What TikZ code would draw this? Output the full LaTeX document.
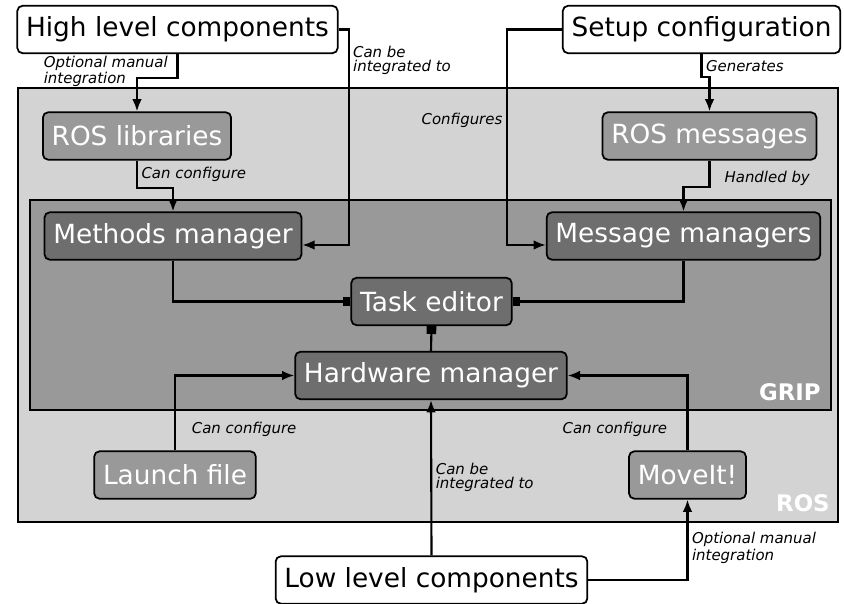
\documentclass[tikz,border=0pt]{standalone}
\usepackage{fontspec}
\setmainfont{DejaVu Sans}
\usetikzlibrary{arrows.meta,calc}
\definecolor{rosbg}{HTML}{D3D3D3}
\definecolor{gripbg}{HTML}{999999}
\definecolor{boxmid}{HTML}{999999}
\definecolor{boxdark}{HTML}{6E6E6E}
\tikzset{
  box/.style={draw=black, line width=1pt, rounded corners=3pt, font=\fontsize{15}{18}\selectfont, minimum height=27pt, inner xsep=5pt, inner ysep=2pt},
  extbox/.style={box, fill=white, text=black},
  rosnode/.style={box, fill=boxmid, text=white},
  gripnode/.style={box, fill=boxdark, text=white},
  lbl/.style={font=\fontsize{8.5}{8}\selectfont\itshape, align=left, inner sep=2pt},
  tag/.style={font=\fontsize{13}{15}\selectfont\bfseries, text=white, inner sep=0pt},
  arr/.style={line width=1.2pt, -{Latex[length=7pt,width=5.5pt]}},
  sq/.style={line width=1.2pt, -{Square[length=4.5pt,width=5.5pt]}}
}

\begin{document}
\begin{tikzpicture}[x=0.02cm, y=-0.02cm]
\clip (0,0) rectangle (844,604);

% containers
\draw[line width=1pt, fill=rosbg] (18,88) rectangle (838,522);
\draw[line width=1pt, fill=gripbg] (30,200) rectangle (831,410);
\node[tag, anchor=south east] (roslbl) at (830,512) {ROS};
\node[tag, anchor=south east] (griplbl) at (821,401) {GRIP};

% outside
\node[extbox] (high) at (177.5,29.5) {High level components};
\node[extbox] (setup) at (701.5,29.5) {Setup configuration};
\node[extbox] (low) at (431.5,580) {Low level components};

% ROS
\node[rosnode] (roslib) at (137,136) {ROS libraries};
\node[rosnode] (rosmsg) at (709.5,136) {ROS messages};
\node[rosnode] (launch) at (175,475) {Launch file};
\node[rosnode] (moveit) at (687.5,475) {MoveIt!};

% GRIP
\node[gripnode] (methods) at (173,236) {Methods manager};
\node[gripnode] (msgmgr) at (683.5,236) {Message managers};
\node[gripnode] (task) at (431.5,301.5) {Task editor};
\node[gripnode] (hw) at (431,375.5) {Hardware manager};

% connectors
\draw[arr] (high.south) node[lbl, anchor=north east, xshift=-3pt, yshift=1.5pt] {Optional manual\\integration} -- ++(0,24) -| (roslib.north);
\draw[arr] (high.east) -- ++(10,0) |- node[lbl, pos=0.072, anchor=west] {Can be\\integrated to} ($(methods.east)+(0,9)$);
\draw[arr] (roslib.south) -- node[lbl, anchor=west] {Can configure} ++(0,27) -| (methods.north);
\draw[arr] (setup.west) -- ++(-55,0) |- node[lbl, pos=0.21, anchor=east] {Configures} ($(msgmgr.west)+(0,9)$);
\draw[arr] (setup.south) -- node[lbl, anchor=west] {Generates} ++(0,23) -| (rosmsg.north);
\draw[arr] (rosmsg.south) -- node[lbl, anchor=west, xshift=6pt, yshift=-3pt] {Handled by} ++(0,26) -| (msgmgr.north);

\draw[sq] (methods.south) |- (task.west);
\draw[sq] (msgmgr.south) |- (task.east);
\draw[sq] (hw.north) -- (task.south);

\draw[arr] (launch.north) |- node[lbl, pos=0.14, anchor=west, xshift=7pt] {Can configure} (hw.west);
\draw[arr] (moveit.north) |- node[lbl, pos=0.14, anchor=east, xshift=-9pt] {Can configure} (hw.east);
\draw[arr] (low.north) -- node[lbl, anchor=west] {Can be\\integrated to} (hw.south);
\draw[arr] (low.east) -| node[lbl, pos=0.7, anchor=west] {Optional manual\\integration} (moveit.south);
\end{tikzpicture}
\end{document}
